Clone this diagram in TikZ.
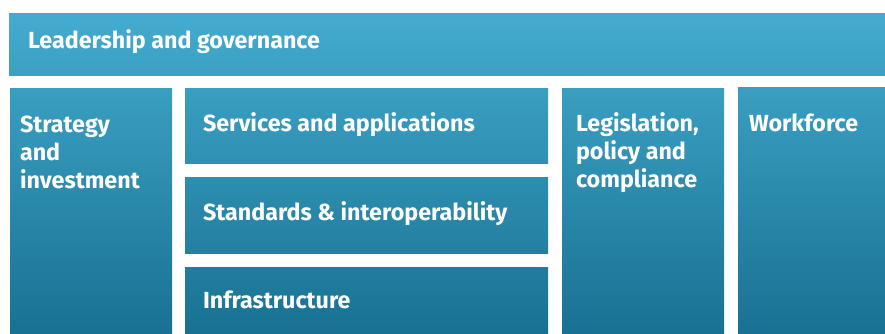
\documentclass[tikz,border=0pt]{standalone}
\usepackage{fontspec}
\setmainfont{Fira Sans}
\definecolor{ctop}{RGB}{68,172,207}
\definecolor{cmid}{RGB}{40,154,192}
\definecolor{cbot}{RGB}{24,113,146}
\begin{document}
\begin{tikzpicture}[x=1pt,y=-1pt,
  panel/.style={inner sep=0pt, outer sep=0pt, anchor=north west,
    path picture={\shade[top color=ctop, middle color=cmid, bottom color=cbot] (gtop) rectangle (gbot);}},
  lbl/.style={anchor=base west, inner sep=0pt, outer sep=0pt, text=white, align=left,
    font=\bfseries\fontsize{23.3}{28}\selectfont}]
\useasboundingbox (0,0) rectangle (885,333);
\coordinate (gtop) at (0,13);
\coordinate (gbot) at (885,333);
\node[panel, minimum width=876pt, minimum height=62pt] (lead) at (9,13) {};
\node[panel, minimum width=162pt, minimum height=245pt] (strat) at (10,88) {};
\node[panel, minimum width=363pt, minimum height=75pt] (serv) at (185,88) {};
\node[panel, minimum width=363pt, minimum height=76pt] (stand) at (185,177) {};
\node[panel, minimum width=363pt, minimum height=66pt] (infra) at (185,267) {};
\node[panel, minimum width=162pt, minimum height=245pt] (legis) at (562,88) {};
\node[panel, minimum width=147pt, minimum height=246pt] (work) at (738,87) {};
\node[lbl] (tlead) at (28,48) {Leadership and governance};
\node[lbl] (tstrat) at (20,188) {Strategy\\and\\investment};
\node[lbl] (tserv) at (203,131) {Services and applications};
\node[lbl] (tstand) at (203,220) {Standards \& interoperability};
\node[lbl] (tinfra) at (203,308) {Infrastructure};
\node[lbl] (tlegis) at (576,187) {Legislation,\\policy and\\compliance};
\node[lbl] (twork) at (749,131) {Workforce};
\end{tikzpicture}
\end{document}
